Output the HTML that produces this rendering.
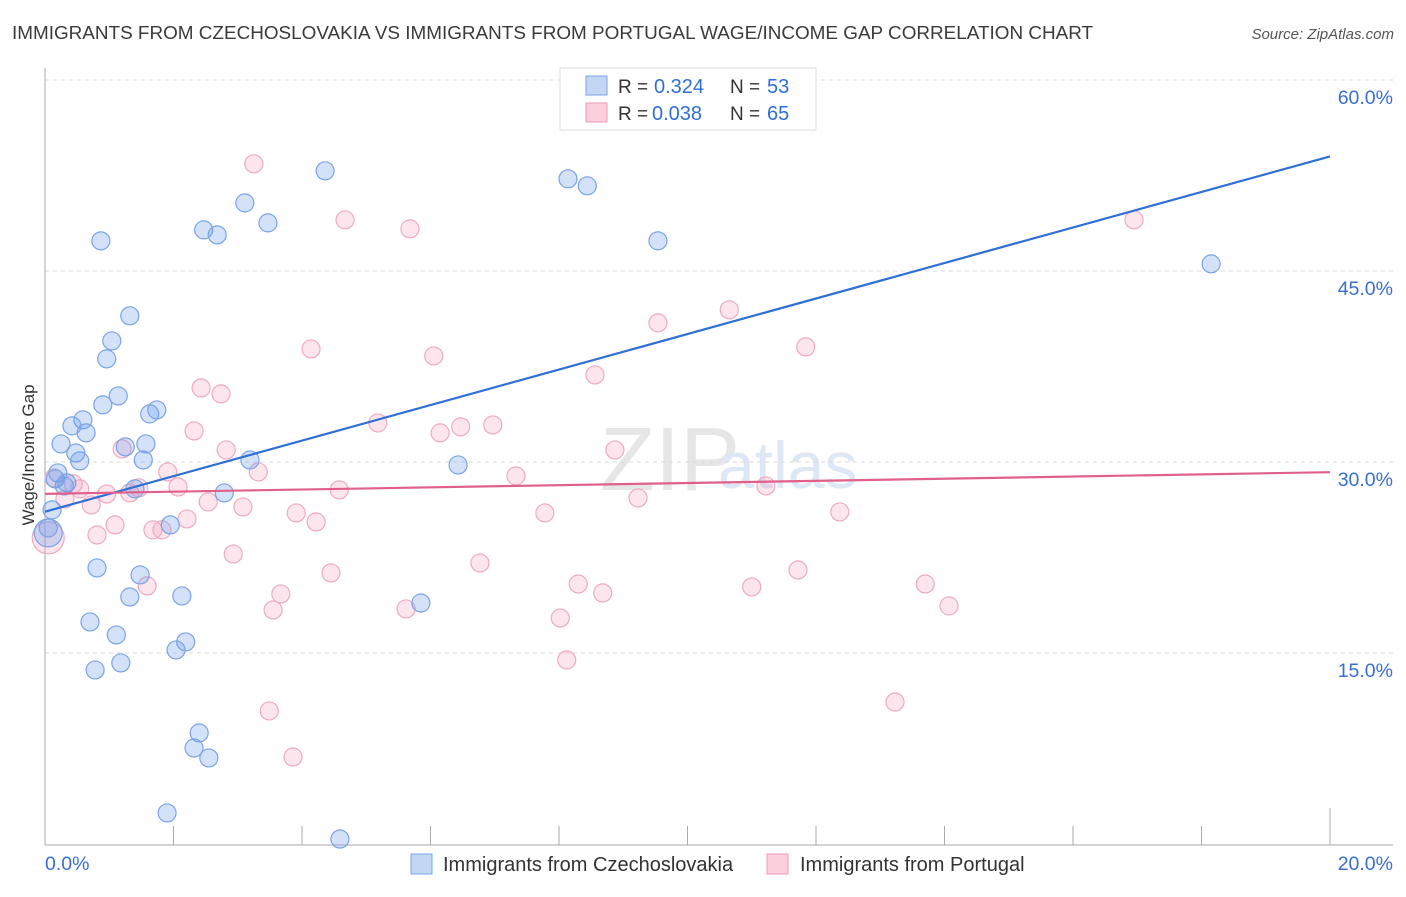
<!DOCTYPE html>
<html><head><meta charset="utf-8"><style>
body{margin:0;background:#fff;font-family:"Liberation Sans",sans-serif}
svg text{font-family:"Liberation Sans",sans-serif}
</style></head><body>
<svg id="c" width="1406" height="892">
<text x="12" y="39" font-size="18.9" fill="#3a3a3a">IMMIGRANTS FROM CZECHOSLOVAKIA VS IMMIGRANTS FROM PORTUGAL WAGE/INCOME GAP CORRELATION CHART</text>
<text x="1394" y="39" font-size="15" fill="#555" font-style="italic" text-anchor="end">Source: ZipAtlas.com</text>
<text x="600" y="490" font-size="90" fill="#e6e6e6" font-family="Liberation Serif">ZIP</text>
<text x="718" y="488" font-size="66" fill="#dde7f5">atlas</text>
<g id="grid"></g><g id="axes"></g><g id="pts"></g><g id="lines"></g>
<text transform="translate(34,455) rotate(-90)" font-size="17" fill="#333" text-anchor="middle">Wage/Income Gap</text>
<g>
<rect x="560" y="68" width="256" height="62" fill="#fff" stroke="#ddd"/>
<rect x="586" y="76" width="21" height="19" fill="#c3d7f5" stroke="#7aa4e6"/>
<text x="618" y="93" font-size="19" fill="#333">R =</text>
<text x="654" y="93" font-size="20" fill="#2f6fd6">0.324</text>
<text x="730" y="93" font-size="19" fill="#333">N =</text>
<text x="767" y="93" font-size="20" fill="#2f6fd6">53</text>
<rect x="586" y="103" width="21" height="19" fill="#fbd0dc" stroke="#ec9ab3"/>
<text x="618" y="120" font-size="19" fill="#333">R =</text>
<text x="652" y="120" font-size="20" fill="#2f6fd6">0.038</text>
<text x="730" y="120" font-size="19" fill="#333">N =</text>
<text x="767" y="120" font-size="20" fill="#2f6fd6">65</text>
</g>
<g>
<rect x="411" y="854" width="21" height="20" fill="#c3d7f5" stroke="#7aa4e6"/>
<text x="443" y="871" font-size="20" fill="#333">Immigrants from Czechoslovakia</text>
<rect x="767" y="854" width="21" height="20" fill="#fbd0dc" stroke="#ec9ab3"/>
<text x="800" y="871" font-size="20" fill="#333">Immigrants from Portugal</text>
</g>
</svg>
<script>
const blueX=[0.87,4.36,3.11,3.47,2.47,2.68,8.14,8.44,9.54,18.15,1.32,1.04,0.96,1.14,0.90,1.63,1.74,0.59,0.42,0.64,0.25,1.25,1.57,0.48,0.54,1.53,0.20,0.16,0.34,0.30,1.40,2.79,3.19,6.43,0.11,1.95,0.05,0.81,1.48,1.32,2.13,5.85,0.70,1.11,2.19,2.04,1.18,0.78,2.40,2.32,2.55,1.90,4.59];
const blueY=[47.37,52.87,50.35,48.78,48.23,47.84,52.24,51.69,47.37,45.56,41.48,39.51,38.10,35.19,34.49,33.78,34.09,33.31,32.84,32.29,31.42,31.19,31.42,30.71,30.09,30.16,29.14,28.67,28.36,28.12,27.89,27.57,30.16,29.77,26.24,25.06,24.82,21.68,21.13,19.40,19.48,18.93,17.44,16.42,15.87,15.24,14.22,13.67,8.72,7.54,6.76,2.44,0.39];
const pinkX=[3.25,4.67,5.68,16.95,10.65,9.54,4.14,6.05,11.84,8.56,2.43,2.74,5.18,6.47,6.97,6.15,2.32,8.87,1.20,2.82,1.91,3.32,7.33,11.22,0.14,0.44,2.07,4.58,0.54,1.32,0.96,0.31,0.72,1.46,2.54,3.08,9.23,3.91,7.78,12.37,2.21,4.22,1.09,0.81,1.68,1.82,2.93,6.77,4.45,11.72,1.59,8.30,11.00,13.70,3.67,8.68,3.55,5.62,14.07,8.02,8.12,3.49,13.23,3.86];
const pinkY=[53.42,49.02,48.31,49.02,41.95,40.93,38.88,38.33,39.04,36.84,35.82,35.35,33.07,32.76,32.91,32.29,32.44,30.95,31.03,30.95,29.22,29.22,28.91,28.12,28.75,28.28,28.04,27.81,27.89,27.57,27.49,27.10,26.63,27.97,26.87,26.47,27.18,26.00,26.00,26.08,25.53,25.29,25.06,24.27,24.67,24.67,22.78,22.07,21.29,21.52,20.27,20.42,20.19,20.42,19.64,19.72,18.38,18.46,18.70,17.75,14.45,10.45,11.15,6.83];
const bigBlue=[0.05,24.43], bigPink=[0.05,24.04];
const blueTrend=[26.1,54.0], pinkTrend=[27.5,29.2];
const yTicks=[15,30,45,60];
const xTicks=[0,2,4,6,8,10,12,14,16,18,20];
const xs=v=>45+v*64.25, ys=v=>844-v*12.733;
const NS='http://www.w3.org/2000/svg';
function mk(p,t,a){const e=document.createElementNS(NS,t);for(const k in a)e.setAttribute(k,a[k]);document.getElementById(p).appendChild(e);return e;}
yTicks.forEach(t=>{
 const l=mk('grid','line',{x1:45,x2:1393,y1:ys(t),y2:ys(t),stroke:'#d8d8d8','stroke-dasharray':'4,4'});
 
 
 const tx=mk('grid','text',{x:1393,y:ys(t)+24,'font-size':19.5,fill:'#3a6fd0','text-anchor':'end'});
 tx.textContent=t.toFixed(1)+'%';
 
 
});
let a=mk('axes','line',{x1:45,x2:45,y1:68,y2:845,stroke:'#aaa'});


a=mk('axes','line',{x1:45,x2:1393,y1:845,y2:845,stroke:'#aaa'});


xTicks.forEach((t,i)=>{
 if(i==0)return;
 const l=mk('axes','line',{x1:xs(t),x2:xs(t),y1:i==10?808:826,y2:845,stroke:'#aaa'});
 
 
});
[[0,'start',45],[20,'end',1393]].forEach(([t,an,x])=>{
 const tx=mk('axes','text',{x:x,y:870,'font-size':19.5,fill:'#3a6fd0','text-anchor':an});
 tx.textContent=t.toFixed(1)+'%';
 
 
});
function dot(x,y,r,f,s,n){const c=mk('pts','circle',{cx:xs(x),cy:ys(y),r:r,fill:f,stroke:s,'stroke-width':1.2});
 
 }
const bf='rgba(110,160,235,0.3)',bs='#7aa4e6',pf='rgba(245,150,180,0.25)',ps='#eeabc0';
dot(bigPink[0],bigPink[1],16,pf,ps,'portugal-point-large');
dot(bigBlue[0],bigBlue[1],14,bf,bs,'czechoslovakia-point-large');
pinkX.forEach((x,i)=>dot(x,pinkY[i],9,pf,ps,'portugal-point'));
blueX.forEach((x,i)=>dot(x,blueY[i],9,bf,bs,'czechoslovakia-point'));
let t=mk('lines','line',{x1:xs(0),x2:xs(20),y1:ys(blueTrend[0]),y2:ys(blueTrend[1]),stroke:'#2f6fd6','stroke-width':2.2});


t=mk('lines','line',{x1:xs(0),x2:xs(20),y1:ys(pinkTrend[0]),y2:ys(pinkTrend[1]),stroke:'#e0608a','stroke-width':2.2});


</script>
</body></html>
